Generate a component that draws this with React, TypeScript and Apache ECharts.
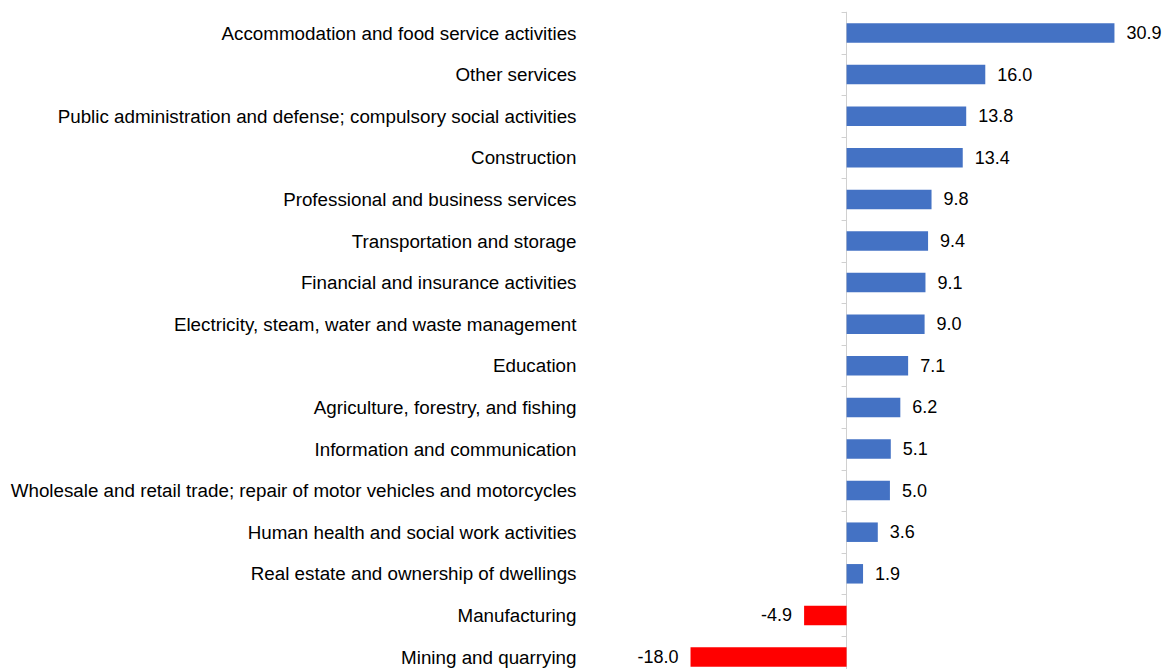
import React, { useEffect, useRef } from "react";
import * as echarts from "echarts";

const categories = [
  "Accommodation and food service activities",
  "Other services",
  "Public administration and defense; compulsory social activities",
  "Construction",
  "Professional and business services",
  "Transportation and storage",
  "Financial and insurance activities",
  "Electricity, steam, water and waste management",
  "Education",
  "Agriculture, forestry, and fishing",
  "Information and communication",
  "Wholesale and retail trade; repair of motor vehicles and motorcycles",
  "Human health and social work activities",
  "Real estate and ownership of dwellings",
  "Manufacturing",
  "Mining and quarrying",
];

const values = [30.9, 16.0, 13.8, 13.4, 9.8, 9.4, 9.1, 9.0, 7.1, 6.2, 5.1, 5.0, 3.6, 1.9, -4.9, -18.0];

const FONT = "'Liberation Sans', Arial, sans-serif";

export default function App() {
  const ref = useRef<HTMLDivElement>(null);
  useEffect(() => {
    if (!ref.current) return;
    const chart = echarts.init(ref.current, undefined, { renderer: "svg" });
    chart.setOption({
      animation: false,
      grid: {
        left: 586.5,
        right: 14,
        top: 12.2,
        height: 665.6,
        containLabel: false,
        outerBoundsMode: "none",
      },
      xAxis: {
        type: "value",
        min: -30,
        max: 35,
        show: false,
        splitLine: { show: false },
      },
      yAxis: [
        {
          type: "category",
          data: categories,
          inverse: true,
          position: "left",
          axisLine: { show: false, onZero: false },
          axisTick: { show: false },
          axisLabel: { margin: 10, fontSize: 18.8, color: "#000", fontFamily: FONT },
        },
        {
          type: "category",
          data: categories,
          inverse: true,
          position: "left",
          axisLine: { show: true, onZero: true, lineStyle: { color: "#D0D0D0", width: 1 } },
          axisTick: { show: true, length: 5, lineStyle: { color: "#D0D0D0" } },
          axisLabel: { show: false },
        },
      ],
      series: [
        {
          type: "bar",
          yAxisIndex: 0,
          barWidth: 19.5,
          data: values.map((v) =>
            v < 0 ? { value: v, label: { position: "left" } } : { value: v }
          ),
          itemStyle: {
            color: (p: any) => (p.value < 0 ? "#FF0000" : "#4472C4"),
          },
          label: {
            show: true,
            position: "right",
            distance: 12,
            fontSize: 18,
            color: "#000",
            fontFamily: FONT,
            formatter: (p: any) => Number(p.value).toFixed(1),
          },
        },
      ],
    });
    return () => chart.dispose();
  }, []);
  return (
    <div
      ref={ref}
      style={{ position: "fixed", left: 0, top: 0, width: 1164, height: 669, background: "#fff" }}
    />
  );
}
